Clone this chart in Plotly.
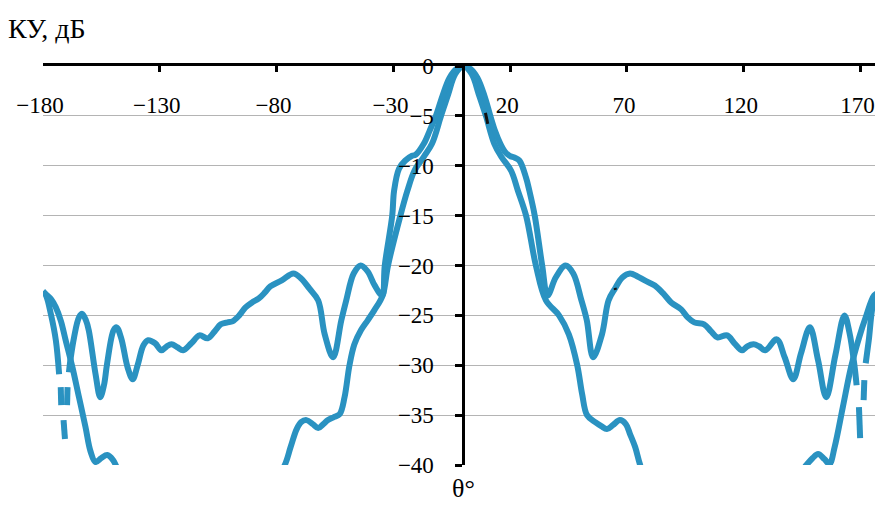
import plotly.graph_objects as go

# ---- data ----
theta_a = [
    -180, -178.7, -176.6, -174.5, -173.1,
    -172.8, -172.4, -172.2,
    -171.9, -171.2, -170.6,
    -170.2, -169.7, -169.5,
    -169.2, -168.9, -168.1, -166.7, -164.6, -163.2, -161.6, -160.4, -157.5, -155.5,
    -153.9, -152.6, -149.8, -148.5, -146.5, -143.8, -141.6, -139.5, -137, -135,
    -132, -129.3, -127, -125, -122.5, -120, -116.5, -113, -109.5, -106.5,
    -103.9, -101, -98.9, -96, -93.3, -90.5, -87.6, -85, -82.7, -77.8,
    -72.8, -69.5, -66, -62.2, -59.4, -55.8, -52.3, -50.2, -47, -44,
    -41, -38, -34.8, -33.7, -30.5, -29.7, -27.6, -25, -22, -20.5,
    -17, -14.5, -11.8, -9, -6, -3, 0,
    3, 6, 9, 11.5, 13.5, 15.8, 17.8, 19.7, 22, 24,
    26.8, 28.2, 30.5, 33.7, 36, 39.5, 43.7, 47, 50.5, 52.8,
    55.5, 59.3, 62.1, 64.9, 68, 71.3, 74.5, 77.6, 81.9, 85.5,
    88.9, 93.2, 96, 98.8, 103, 106, 108.7, 112.9, 116, 119.3,
    121.5, 124.2, 126.5, 129.2, 134.1, 137.5, 141.2, 144.5, 148.3, 151.8,
    155.3, 159.2, 163.1, 165.3, 167.3, 168.3,
    168.8, 169.3, 169.8,
    170.5, 171.3, 171.6,
    171.9, 172.2, 173.5, 175.8, 178, 180,
]
gain_a = [
    -22.6, -23.0, -24.9, -27.5, -30.9,
    None, -32.2, -34.0,
    None, -35.5, -37.4,
    None, -34.0, -32.2,
    None, -30.7, -29.2, -27.2, -25.2, -24.85, -25.5, -26.5, -30.9, -33.2,
    -32.0, -29.9, -26.5, -26.2, -27.3, -30.2, -31.4, -30.0, -28.0, -27.5,
    -27.8, -28.5, -28.1, -27.9, -28.2, -28.5, -27.8, -27.0, -27.3, -26.6,
    -25.9, -25.7, -25.6, -25.0, -24.2, -23.7, -23.3, -22.7, -22.1, -21.5,
    -20.8, -21.3, -22.3, -23.5, -26.9, -29.2, -25.5, -23.5, -20.8, -20.0,
    -20.6, -22.0, -23.0, -20.0, -15.0, -12.5, -10.3, -9.5, -9.0, -8.9,
    -7.8, -6.5, -5.0, -3.0, -1.2, -0.3, 0,
    -0.3, -1.2, -3.0, -5.0, -6.5, -7.8, -8.6, -9.0, -9.2, -9.5,
    -11.2, -12.5, -15.0, -20.0, -23.0, -21.2, -20.0, -20.8, -23.5, -25.5,
    -29.2, -26.9, -23.5, -22.3, -21.2, -20.8, -21.1, -21.5, -22.0, -22.8,
    -23.7, -24.4, -25.2, -25.7, -25.9, -26.6, -27.2, -27.0, -27.8, -28.5,
    -28.1, -27.9, -28.1, -28.5, -27.4, -29.2, -31.4, -28.8, -26.2, -29.5,
    -33.2, -29.0, -25.0, -26.8, -29.9, -32.0,
    None, -34.2, -37.3,
    None, -33.5, -31.5,
    None, -29.8, -27.5, -23.5, -22.8, -22.6,
]

theta_b = [
    -180, -178.7, -176.5, -174.5, -172.3, -170.3, -167.4, -164.6, -161.8, -159.7,
    -157.5, -155, -152.5, -150, -148, -140, -125, -110, -95, -82,
    -76.5, -74, -71.4, -69.5, -67.2, -64.5, -62.2, -60, -58, -55.5,
    -53, -50.9, -48.8, -46.7, -43.9, -41, -38.2, -34.6, -32.3, -27,
    -24, -21, -17, -13.5, -9.6, -6.5, -3.5, 0,
    3.5, 6.5, 9.6, 13.2, 16.2, 20.4, 23.3, 26.8, 31, 35.3,
    40.9, 45.1, 48.7, 50.8, 52.9, 56.4, 59, 61.4, 64, 67,
    69.5, 71.3, 73.5, 75.5, 80, 95, 110, 125, 140, 146.8,
    149.5, 151.8, 154.5, 156.7, 158.9, 162.4, 165.9, 169.4, 172.2, 175.8,
    178, 180,
]
gain_b = [
    -22.6, -22.9, -23.4, -24.2, -25.6, -27.5, -30.2, -33.2, -36.2, -38.6,
    -39.7, -39.3, -39.0, -39.5, -40.4, -43, -45, -45, -44, -42,
    -40.0, -38.2, -36.4, -35.7, -35.5, -35.9, -36.3, -35.9, -35.5, -35.2,
    -34.9, -33.2, -30.0, -27.9, -26.5, -25.5, -24.5, -23.0, -20.0, -15.0,
    -12.5, -10.5, -9.1, -7.8, -5.0, -2.8, -0.8, 0,
    -0.8, -2.8, -5.0, -7.8, -9.1, -10.5, -12.5, -15.0, -20.0, -23.5,
    -25.0, -26.9, -30.0, -32.9, -35.0, -35.7, -36.1, -36.4, -36.0, -35.5,
    -35.9, -36.9, -38.2, -39.9, -43, -45, -45, -44, -42, -40.0,
    -39.3, -38.9, -39.4, -39.9, -38.2, -34.2, -30.2, -27.2, -25.2, -23.0,
    -22.7, -22.6,
]

# small dark marks visible on the curves
mark_theta = [9.4, 10.4, None, 64.9, 65.1]
mark_gain = [-4.7, -5.8, None, -22.25, -22.45]

x_ticks = [-180, -130, -80, -30, 20, 70, 120, 170]
y_ticks = [0, -5, -10, -15, -20, -25, -30, -35, -40]

y_title = "КУ, дБ"
x_title = "θ°"

# ---- figure ----
LINE = "#2A92C1"
FONT = "Liberation Serif"
X_RANGE = [-180, 176.6]

fig = go.Figure()
for th, g in ((theta_b, gain_b), (theta_a, gain_a)):
    fig.add_trace(go.Scatter(
        x=th, y=g, mode="lines",
        line=dict(color=LINE, width=6, shape="spline", smoothing=1.0),
        connectgaps=False, hoverinfo="skip",
    ))
fig.add_trace(go.Scatter(
    x=mark_theta, y=mark_gain, mode="lines",
    line=dict(color="#111111", width=3), connectgaps=False, hoverinfo="skip",
))

# page body has an 8px margin: figure is offset by (8, 8) in the window;
# width chosen so the right edge of the plot stays inside the visible page.
fig.update_layout(
    width=868, height=497,
    margin=dict(l=35, r=0, t=58, b=40),
    paper_bgcolor="white", plot_bgcolor="white",
    showlegend=False,
    font=dict(family=FONT, size=23, color="black"),
    xaxis=dict(
        range=X_RANGE, side="top",
        tickmode="array", tickvals=x_ticks,
        ticks="inside", ticklen=6, tickwidth=2.5, tickcolor="black",
        showline=True, linecolor="black", linewidth=3,
        showgrid=False, zeroline=False,
        ticklabelposition="inside", ticklabeloverflow="allow",
        ticklabelstandoff=27, ticklabelshift=-3,
        tickfont=dict(family=FONT, size=23, color="black"),
    ),
    yaxis=dict(
        range=[-40, 0],
        tickmode="array", tickvals=y_ticks,
        anchor="free", position=(0 - X_RANGE[0]) / (X_RANGE[1] - X_RANGE[0]),
        ticks="outside", ticklen=7, tickwidth=2.5, tickcolor="black",
        showline=True, linecolor="black", linewidth=3,
        showgrid=True, gridcolor="#b4b4b4", gridwidth=1.3,
        zeroline=False,
        ticklabelstandoff=17,
        tickfont=dict(family=FONT, size=23, color="black"),
    ),
    annotations=[
        dict(text=y_title, xref="paper", yref="paper", x=-0.044, y=1.095,
             xanchor="left", yanchor="middle", showarrow=False,
             font=dict(family=FONT, size=28, color="black")),
        dict(text=x_title, xref="x", yref="paper", x=0, y=-0.06,
             xanchor="center", yanchor="middle", showarrow=False,
             font=dict(family=FONT, size=26, color="black")),
    ],
)

fig.write_html("out.html")
